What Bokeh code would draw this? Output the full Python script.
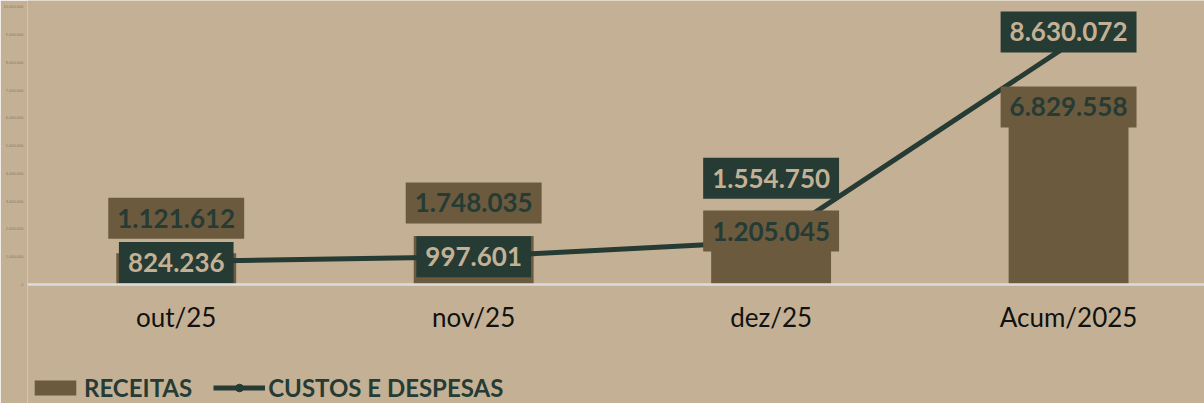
from bokeh.plotting import figure
from bokeh.models import FixedTicker, Legend, LegendItem, Range1d
from bokeh.embed import file_html
from bokeh.resources import INLINE
from bokeh.core.properties import value

# ---- data ----
categories = ["out/25", "nov/25", "dez/25", "Acum/2025"]
receitas = [1121612, 1748035, 1205045, 6829558]
custos = [824236, 997601, 1554750, 8630072]
y_ticks = [0, 1000000, 2000000, 3000000, 4000000, 5000000,
           6000000, 7000000, 8000000, 9000000, 10000000]

# ---- label placement (screen px, downwards) ----
bar_label_dy = [-35, -33, -20, 12]
line_label_dy = [1, 0, -63, -13]


def fmt(v):
    return f"{v:,}".replace(",", ".")


BG = "#c4b195"
BAR = "#6b5a3e"
GREEN = "#253b34"

idx = list(range(len(categories)))

p = figure(width=1204, height=403,
           x_range=Range1d(-0.5, 3.457), y_range=Range1d(-4.287e6, 10.23e6),
           output_backend="svg", toolbar_location=None,
           min_border_left=26, min_border_right=0,
           min_border_top=0, min_border_bottom=0)
p.background_fill_color = BG
p.border_fill_color = BG
p.outline_line_color = None
p.grid.visible = False

bars = p.vbar(x=idx, top=receitas, width=0.403, fill_color=BAR, line_color=None)
line = p.line(idx, custos, line_width=5, line_color=GREEN)
pts = p.scatter(idx, custos, size=12, fill_color=GREEN, line_color=GREEN)

p.text(x=idx, y=receitas, text=[fmt(v) for v in receitas],
       text_align="center", text_baseline="middle", y_offset=bar_label_dy,
       text_font=value("Lato"), text_font_style="bold", text_font_size="26px",
       text_color=GREEN, background_fill_color=BAR,
       padding=dict(left=9, right=9, top=11, bottom=11))
p.text(x=idx, y=custos, text=[fmt(v) for v in custos],
       text_align="center", text_baseline="middle", y_offset=line_label_dy,
       text_font=value("Lato"), text_font_style="bold", text_font_size="26px",
       text_color=BG, background_fill_color=GREEN,
       padding=dict(left=9, right=9, top=11, bottom=11))

# x axis, pinned at value 0
xa = p.xaxis[0]
xa.fixed_location = 0
xa.ticker = FixedTicker(ticks=idx)
xa.major_label_overrides = {i: c for i, c in zip(idx, categories)}
xa.axis_line_color = "#dcdcdc"
xa.axis_line_width = 2.5
xa.major_tick_line_color = None
xa.minor_tick_line_color = None
xa.major_tick_out = 0
xa.major_tick_in = 0
xa.major_label_text_font = "Lato"
xa.major_label_text_font_size = "26px"
xa.major_label_text_color = "#111111"
xa.major_label_standoff = 17

# y axis (tiny labels)
ya = p.yaxis[0]
ya.ticker = FixedTicker(ticks=y_ticks)
ya.major_label_overrides = {t: fmt(t) for t in y_ticks}
ya.axis_line_color = None
ya.major_tick_line_color = None
ya.minor_tick_line_color = None
ya.major_tick_out = 0
ya.major_tick_in = 0
ya.major_label_text_font_size = "4px"
ya.major_label_text_color = "#85796a"
ya.major_label_standoff = 4

leg = Legend(items=[LegendItem(label="RECEITAS", renderers=[bars]),
                    LegendItem(label="CUSTOS E DESPESAS", renderers=[line, pts])],
             location=(2, 1), orientation="horizontal", padding=0, margin=0,
             spacing=21, glyph_width=52, glyph_height=19, label_standoff=3,
             border_line_color=None, background_fill_alpha=0,
             label_text_font="Lato", label_text_font_style="bold",
             label_text_font_size="24px", label_text_color=GREEN,
             label_height=15)
p.add_layout(leg)

open("out.html", "w").write(file_html(p, INLINE))
